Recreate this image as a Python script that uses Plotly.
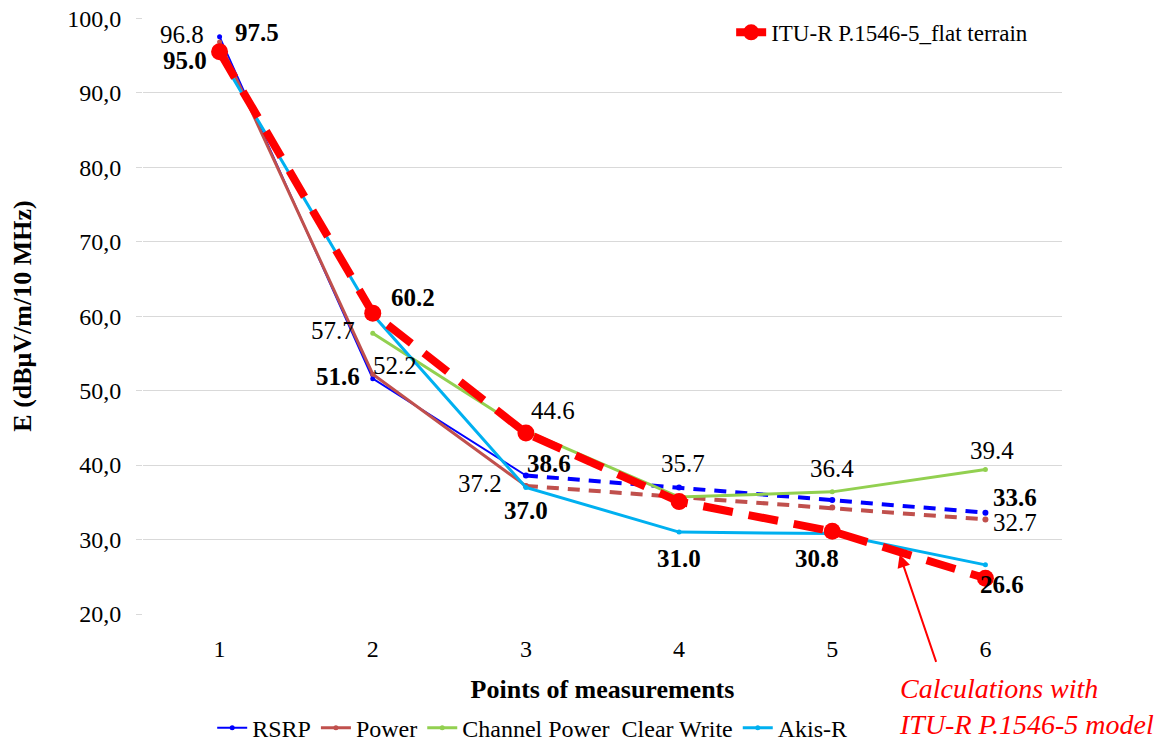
import plotly.graph_objects as go

points = [1, 2, 3, 4, 5, 6]
tick_labels = ["1", "2", "3", "4", "5", "6"]

rsrp = [97.5, 51.6, 38.6, 37.0, 35.3, 33.6]
power = [96.8, 52.2, 37.2, 35.7, 34.3, 32.7]
channel_power = [None, 57.7, 44.6, 35.7, 36.4, 39.4]
akis_r = [95.0, 60.2, 37.0, 31.0, 30.8, 26.6]
itu = [95.5, 60.4, 44.3, 35.1, 31.1, 24.8]

FONT = "Times New Roman, Liberation Serif, serif"
BLUE = "#0000FF"
BROWN = "#C0504D"
GREEN = "#92D050"
CYAN = "#00B0F0"
RED = "#FF0000"

fig = go.Figure()

# RSRP: solid for first three points, dashed afterwards
fig.add_trace(go.Scatter(x=points[:3], y=rsrp[:3], name="RSRP", mode="lines+markers",
                         line=dict(color=BLUE, width=2), marker=dict(size=5, color=BLUE),
                         legend="legend"))
fig.add_trace(go.Scatter(x=points[2:], y=rsrp[2:], showlegend=False, mode="lines+markers",
                         line=dict(color=BLUE, width=4, dash="12px,9px"),
                         marker=dict(size=6, color=BLUE)))
fig.add_trace(go.Scatter(x=points[:3], y=power[:3], name="Power", mode="lines+markers",
                         line=dict(color=BROWN, width=3), marker=dict(size=5, color=BROWN)))
fig.add_trace(go.Scatter(x=points[2:], y=power[2:], showlegend=False, mode="lines+markers",
                         line=dict(color=BROWN, width=4, dash="12px,9px"),
                         marker=dict(size=6, color=BROWN)))
fig.add_trace(go.Scatter(x=points, y=channel_power, name="Channel Power  Clear Write",
                         mode="lines+markers", line=dict(color=GREEN, width=3),
                         marker=dict(size=5, color=GREEN)))
fig.add_trace(go.Scatter(x=points, y=akis_r, name="Akis-R", mode="lines+markers",
                         line=dict(color=CYAN, width=3), marker=dict(size=5, color=CYAN)))
fig.add_trace(go.Scatter(x=points, y=itu, name="ITU-R P.1546-5_flat terrain",
                         mode="lines+markers", line=dict(color=RED, width=8, dash="30px,16px"),
                         marker=dict(size=17, color=RED), legend="legend2"))

# data labels: (series, index, xshift, yshift, bold)
series = {"rsrp": rsrp, "power": power, "channel": channel_power, "akis": akis_r}
label_specs = [
    ("power", 0, -38, 8, False),
    ("rsrp", 0, 37, 4, True),
    ("akis", 0, -35, -5, True),
    ("akis", 1, 40, 17, True),
    ("channel", 1, -40, 3, False),
    ("power", 1, 22, 9, False),
    ("rsrp", 1, -35, 2, True),
    ("channel", 2, 27, 20, False),
    ("rsrp", 2, 23, 12, True),
    ("power", 2, -46, 2, False),
    ("akis", 2, 0, -23, True),
    ("channel", 3, 4, 34, False),
    ("akis", 3, 0, -26, True),
    ("channel", 4, 0, 23, False),
    ("akis", 4, -15, -25, True),
    ("channel", 5, 7, 19, False),
    ("rsrp", 5, 30, 15, True),
    ("power", 5, 30, -3, False),
    ("akis", 5, 17, -20, True),
]
for key, i, xs, ys, bold in label_specs:
    v = series[key][i]
    txt = f"{v:.1f}"
    if bold:
        txt = f"<b>{txt}</b>"
    fig.add_annotation(x=points[i], y=v, text=txt, showarrow=False, xshift=xs, yshift=ys,
                       font=dict(family=FONT, size=25, color="black"))

# arrow pointing at the ITU line (tail offset in pixels from the head)
fig.add_annotation(x=5.44, y=28.0, ax=37, ay=109, axref="pixel", ayref="pixel",
                   xref="x", yref="y", text="", showarrow=True, arrowhead=2,
                   arrowsize=1.3, arrowwidth=2, arrowcolor=RED)
fig.add_annotation(xref="paper", yref="paper", x=0.8209, y=-0.1544, xanchor="left",
                   yanchor="middle", align="left", showarrow=False,
                   text="<i>Calculations with<br>ITU-R P.1546-5 model</i>",
                   font=dict(family=FONT, size=28, color=RED))

fig.update_layout(
    width=1166, height=736,
    margin=dict(l=135, r=112, t=10, b=130, autoexpand=False),
    paper_bgcolor="white", plot_bgcolor="white",
    separators=", ",
    font=dict(family=FONT, size=24, color="black"),
    xaxis=dict(range=[0.5, 6.5], tickvals=points, ticktext=tick_labels, showgrid=False,
               zeroline=False, showline=False, ticks="", ticklabelstandoff=18,
               tickfont=dict(family=FONT, size=24),
               title=dict(text="<b>Points of measurements</b>", font=dict(family=FONT, size=26),
                          standoff=18)),
    yaxis=dict(range=[20, 100.03], tickvals=[20, 30, 40, 50, 60, 70, 80, 90, 100],
               tickformat=".1f", showgrid=True,
               gridcolor="#D9D9D9", gridwidth=1, zeroline=False, showline=False,
               ticks="outside", ticklen=6, tickcolor="#D9D9D9",
               ticklabelstandoff=10, ticklabeloverflow="allow",
               tickfont=dict(family=FONT, size=24),
               title=dict(text="<b>E (dBμV/m/10 MHz)</b>", font=dict(family=FONT, size=26),
                          standoff=28)),
    legend=dict(orientation="h", x=0.4235, xanchor="center", y=-0.1536, yanchor="top",
                font=dict(family=FONT, size=24), bgcolor="rgba(0,0,0,0)",
                itemwidth=30, tracegroupgap=0),
    legend2=dict(x=0.64, xanchor="left", y=1.012, yanchor="top",
                 font=dict(family=FONT, size=23), bgcolor="rgba(0,0,0,0)", itemwidth=30),
)

fig.write_html("out.html")
